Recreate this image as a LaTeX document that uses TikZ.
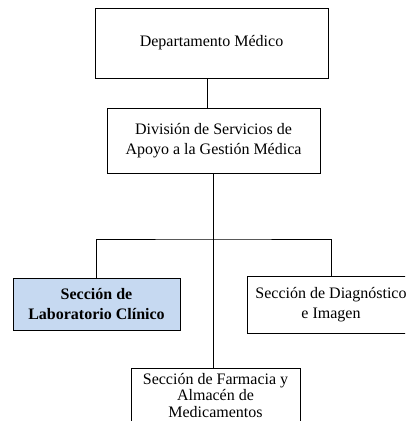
\documentclass[tikz,border=0pt]{standalone}
\usepackage{fontspec}
\setmainfont{Liberation Serif}
\usepackage{tikz}
\usetikzlibrary{positioning}
\definecolor{labblue}{RGB}{198,217,241}

\begin{document}
\begin{tikzpicture}[x=0.75pt,y=-0.75pt,
	box/.style={rectangle,draw,align=center,inner sep=0pt,line width=0.6pt,font=\fontsize{12}{14.5}\selectfont},
	conn/.style={line width=0.6pt}
	]
	\useasboundingbox (0,0) rectangle (405,421);
	\clip (0,0) rectangle (405,421);
	\node [box,minimum width=174.75pt,minimum height=52.5pt] (dep)	at (211.5,43)	{Departamento Médico};
	\node [box,minimum width=159.75pt,minimum height=48.75pt] (div)	at (213.5,140.5)	{División de Servicios de \\ Apoyo a la Gestión Médica};
	\node [box,fill=labblue,minimum width=125.25pt,minimum height=39pt,font=\fontsize{12}{14.5}\selectfont\bfseries] (lab)	at (96.5,304)	{Sección de \\ Laboratorio Clínico};
	\node [box,minimum width=126pt,minimum height=42.75pt] (diag)	at (331,304.5)	{Sección de Diagnóstico \\ e Imagen};
	\node [box,minimum width=126.75pt,inner ysep=3.5pt,anchor=north,font=\fontsize{12}{12.4}\selectfont] (farm)	at (215.5,368)	{Sección de Farmacia y \\ Almacén de \\ Medicamentos};
	\coordinate (bar) at (213,239);

	\draw [conn] (dep.south -| 207,0) to (div.north -| 207,0);
	\draw [conn] (div.south -| bar) to (farm.north -| bar);
	\draw [conn] (lab.north) |- (bar) -| (diag.north);

\end{tikzpicture}
\end{document}
